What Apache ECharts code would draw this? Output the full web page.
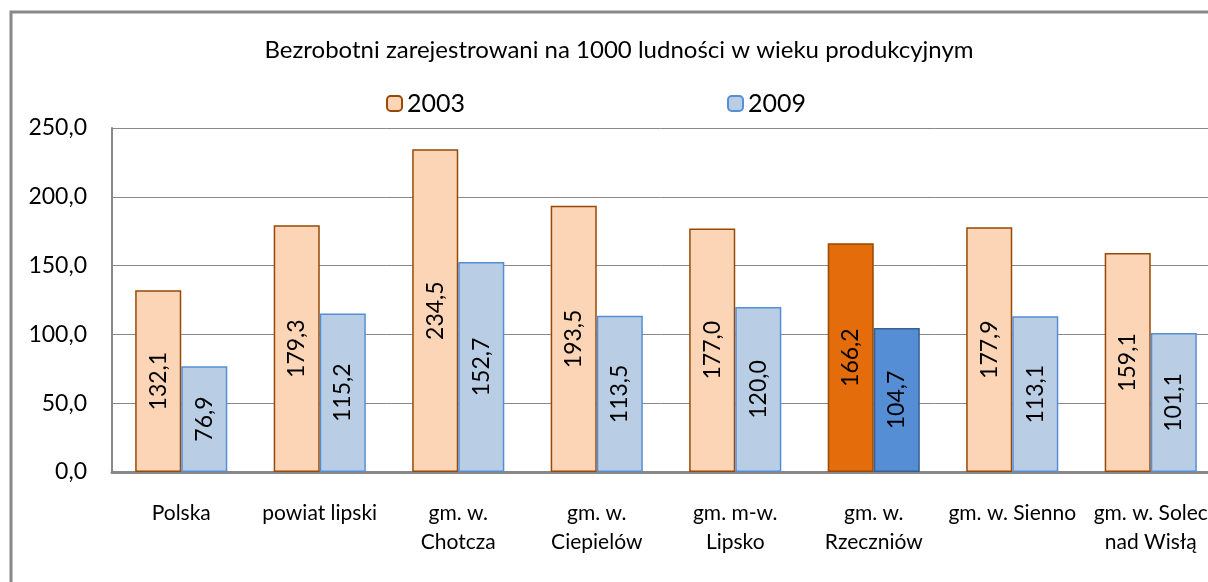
<!DOCTYPE html>
<html>
<head>
<meta charset="utf-8">
<script src="https://cdn.jsdelivr.net/npm/echarts@6/dist/echarts.min.js"></script>
<style>
html, body { margin: 0; padding: 0; background: #fff; }
#main { width: 1208px; height: 582px; }
</style>
</head>
<body>
<div id="main"></div>
<script>
var categories = ['Polska', 'powiat lipski', 'gm. w.\nChotcza', 'gm. w.\nCiepielów', 'gm. m-w.\nLipsko', 'gm. w.\nRzeczniów', 'gm. w. Sienno', 'gm. w. Solec\nnad Wisłą'];
var values2003 = [132.1, 179.3, 234.5, 193.5, 177.0, 166.2, 177.9, 159.1];
var values2009 = [76.9, 115.2, 152.7, 113.5, 120.0, 104.7, 113.1, 101.1];
// wyróżniona gmina
var highlightIndex = 5;

function fmt(v) {
    return v.toFixed(1).replace('.', ',');
}

function buildData(values, hiColor, hiBorder) {
    return values.map(function (v, i) {
        if (i === highlightIndex) {
            return { value: v, itemStyle: { color: hiColor, borderColor: hiBorder } };
        }
        return v;
    });
}

var font = 'Lato, "Open Sans", sans-serif';

var chart = echarts.init(document.getElementById('main'));
var option = {
    animation: false,
    title: {
        text: 'Bezrobotni zarejestrowani na 1000 ludności w wieku produkcyjnym',
        left: 614,
        textAlign: 'center',
        top: 33,
        textStyle: { fontFamily: font, fontSize: 24, fontWeight: 'normal', color: '#000' }
    },
    legend: {
        top: 86,
        left: 381,
        itemGap: 262,
        itemWidth: 15,
        itemHeight: 15,
        textStyle: { fontFamily: font, fontSize: 25, color: '#000' },
        data: ['2003', '2009']
    },
    graphic: [{
        type: 'rect',
        shape: { x: 11, y: 12, width: 1220, height: 600 },
        style: { fill: 'none', stroke: '#888', lineWidth: 3 },
        z: -1
    }],
    grid: {
        left: 112,
        width: 1108,
        top: 128,
        bottom: 110,
        outerBoundsMode: 'none'
    },
    xAxis: {
        type: 'category',
        data: categories,
        axisTick: { show: false },
        axisLine: { lineStyle: { color: '#888', width: 3 } },
        axisLabel: {
            margin: 27,
            interval: 0,
            color: '#000',
            fontFamily: font,
            fontSize: 21,
            lineHeight: 29
        }
    },
    yAxis: {
        type: 'value',
        min: 0,
        max: 250,
        interval: 50,
        axisLine: { show: true, lineStyle: { color: '#888', width: 2 } },
        axisTick: { show: false },
        splitLine: { lineStyle: { color: '#888', width: 1 } },
        axisLabel: {
            margin: 25,
            color: '#000',
            fontFamily: font,
            fontSize: 23,
            formatter: function (v) { return fmt(v); }
        }
    },
    series: [
        {
            name: '2003',
            type: 'bar',
            barGap: '0%',
            barCategoryGap: '33.5%',
            data: buildData(values2003, '#E46C0A', '#984807'),
            itemStyle: { color: '#FBD5B5', borderColor: '#984807', borderWidth: 1.5 },
            label: {
                show: true,
                position: 'inside',
                rotate: 90,
                color: '#000',
                fontFamily: font,
                fontSize: 23,
                formatter: function (p) { return fmt(p.value); }
            }
        },
        {
            name: '2009',
            type: 'bar',
            data: buildData(values2009, '#558ED5', '#376092'),
            itemStyle: { color: '#B9CDE5', borderColor: '#558ED5', borderWidth: 1.5 },
            label: {
                show: true,
                position: 'inside',
                rotate: 90,
                color: '#000',
                fontFamily: font,
                fontSize: 23,
                formatter: function (p) { return fmt(p.value); }
            }
        }
    ]
};
chart.setOption(option);
</script>
</body>
</html>
